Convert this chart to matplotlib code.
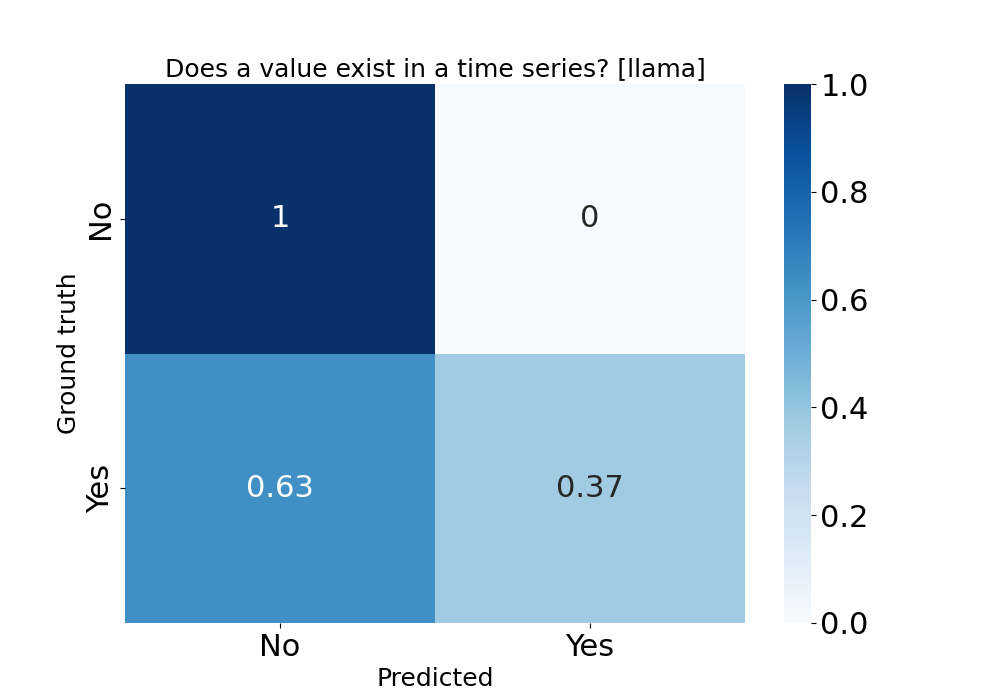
#! /usr/bin/env python3
"""
Confusion matrix heatmap for the llama value-existence task
"""

import matplotlib
matplotlib.use("Agg")
import matplotlib.pyplot as plt
import numpy as np
import seaborn as sns

labels = ["No", "Yes"]
row_no = [1.0, 0.0]
row_yes = [0.63, 0.37]
title = "Does a value exist in a time series? [llama]"


def main():
    matrix = np.array([row_no, row_yes])
    fig, ax = plt.subplots(figsize=(10, 7), dpi=100)
    sns.heatmap(
        matrix, annot=True, cmap="Blues", vmin=0, vmax=1,
        xticklabels=labels, yticklabels=labels,
        annot_kws={"size": 22}, ax=ax
    )
    ax.set_title(title, fontsize=18)
    ax.set_xlabel("Predicted", fontsize=18)
    ax.set_ylabel("Ground truth", fontsize=18)
    ax.tick_params(axis="both", labelsize=22)
    cbar = ax.collections[0].colorbar
    cbar.ax.tick_params(labelsize=22)
    fig.savefig("out.png")


if __name__ == "__main__":
    main()
